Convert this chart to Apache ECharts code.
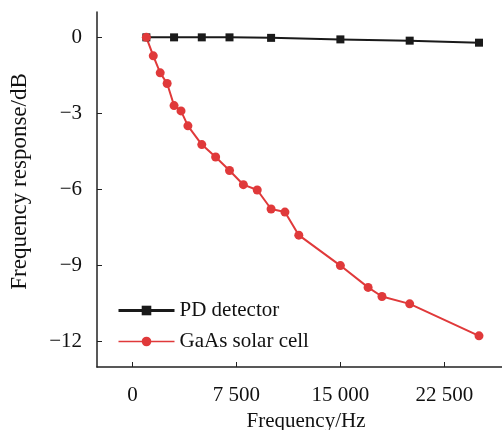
<!DOCTYPE html>
<html>
<head>
<meta charset="utf-8">
<script src="https://cdn.jsdelivr.net/npm/echarts@6/dist/echarts.min.js"></script>
<style>html,body{margin:0;padding:0;background:#fff;}#c{width:502px;height:430px;}</style>
</head>
<body>
<div id="c"></div>
<script>
var seriesNames = ['PD detector', 'GaAs solar cell'];
var pdFreq = [1000, 3000, 5000, 7000, 10000, 15000, 20000, 25000];
var pdResp = [0, 0, 0, 0, -0.02, -0.08, -0.13, -0.21];
var gaasFreq = [1000, 1500, 2000, 2500, 3000, 3500, 4000, 5000, 6000, 7000, 8000, 9000, 10000, 11000, 12000, 15000, 17000, 18000, 20000, 25000];
var gaasResp = [0, -0.73, -1.40, -1.82, -2.69, -2.90, -3.49, -4.23, -4.72, -5.25, -5.81, -6.02, -6.77, -6.89, -7.80, -9.00, -9.86, -10.22, -10.51, -11.77];
var xTicks = [0, 7500, 15000, 22500];
var yTicks = [0, -3, -6, -9, -12];

function pairs(xs, ys) { return xs.map(function (x, i) { return [x, ys[i]]; }); }
function fmtX(v) { return String(v).replace(/\B(?=(\d{3})+(?!\d))/g, ' '); }
function fmtY(v) { return String(v).replace('-', '\u2212'); }

var font = 'Liberation Serif';
var chart = echarts.init(document.getElementById('c'), null, {renderer: 'canvas'});
chart.setOption({
  animation: false,
  backgroundColor: '#fff',
  textStyle: {fontFamily: font},
  grid: {left: 97, right: 0, top: 12, bottom: 63, containLabel: false, outerBoundsMode: 'none'},
  legend: {
    left: 112, top: 295, orient: 'vertical', itemWidth: 56, itemHeight: 12, itemGap: 10,
    textStyle: {fontFamily: font, fontSize: 21, color: '#111'},
    data: [
      {name: seriesNames[0], lineStyle: {width: 3}},
      {name: seriesNames[1], lineStyle: {width: 1.5}}
    ]
  },
  xAxis: {
    type: 'value', min: -2560, max: 26660,
    name: 'Frequency/Hz', nameLocation: 'middle', nameGap: 44,
    nameTextStyle: {fontFamily: font, fontSize: 21, color: '#111', padding: [0, 0, 0, 13]},
    axisLine: {show: true, onZero: false, lineStyle: {color: '#222', width: 1.5}},
    axisTick: {show: true, inside: true, length: 5, customValues: xTicks, lineStyle: {color: '#222'}},
    axisLabel: {customValues: xTicks, formatter: fmtX, margin: 18, fontFamily: font, fontSize: 21, color: '#111'},
    splitLine: {show: false}
  },
  yAxis: {
    type: 'value', min: -13, max: 1,
    name: 'Frequency response/dB', nameLocation: 'middle', nameGap: 66, nameRotate: 90,
    nameTextStyle: {fontFamily: font, fontSize: 23, color: '#111', padding: [0, 0, 0, 16]},
    axisLine: {show: true, onZero: false, lineStyle: {color: '#222', width: 1.5}},
    axisTick: {show: true, inside: true, length: 5, customValues: yTicks, lineStyle: {color: '#222'}},
    axisLabel: {customValues: yTicks, formatter: fmtY, margin: 15, fontFamily: font, fontSize: 21, color: '#111'},
    splitLine: {show: false}
  },
  series: [
    {
      name: seriesNames[0], type: 'line', data: pairs(pdFreq, pdResp),
      symbol: 'rect', symbolSize: 8, color: '#1a1a1a',
      lineStyle: {width: 2, color: '#1a1a1a'}, itemStyle: {color: '#1a1a1a'}
    },
    {
      name: seriesNames[1], type: 'line', data: pairs(gaasFreq, gaasResp),
      symbol: 'circle', symbolSize: 9, color: '#e0393a',
      lineStyle: {width: 2, color: '#e0393a'}, itemStyle: {color: '#e0393a'}
    }
  ]
});
</script>
</body>
</html>
